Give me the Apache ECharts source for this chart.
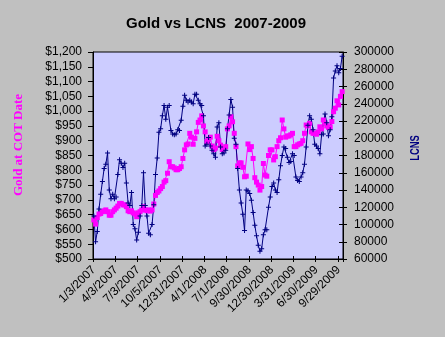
<!DOCTYPE html>
<html><head><meta charset="utf-8">
<script src="https://cdn.jsdelivr.net/npm/echarts@6/dist/echarts.min.js"></script>
<style>html,body{margin:0;padding:0;background:#C0C0C0}#c{width:445px;height:337px}</style>
</head><body><div id="c"></div>
<script>
// Tick labels shown on the category axis (every 13th weekly COT date)
const tickLabels = ['1/3/2007','4/3/2007','7/3/2007','10/5/2007','12/31/2007','4/1/2008','7/1/2008','9/30/2008','12/30/2008','3/31/2009','6/30/2009','9/29/2009'];

// Gold price at COT date (left axis, $)
const gold = [
632,618,640,652,654,660,663,666,660,648,
648,660,666,672,679,688,688,683,683,677,
663,660,663,656,652,643,656,660,666,677,
666,663,666,662,666,686,715,725,730,738,
745,760,765,790,829,812,812,808,802,802,
806,812,840,869,886,889,925,912,888,908,
930,962,970,984,950,930,897,905,912,882,
870,875,915,900,885,870,875,880,940,950,
981,964,925,880,815,825,825,810,778,780,
889,870,880,840,775,760,750,733,745,823,
784,780,850,869,869,835,846,880,900,910,
970,940,912,916,916,920,925,880,880,886,
889,891,900,925,953,950,959,930,925,925,
922,930,947,940,970,959,950,945,947,965,
998,1010,1035,1021,1050,1066];

// LCNS (right axis)
const lcns = [
110000,80000,92000,118000,135000,150000,165000,170000,183000,140000,
130000,135000,130000,132000,158000,175000,171000,166000,171000,148000,
125000,122000,137000,100000,95000,82000,91000,110000,122000,160000,
122000,110000,90000,88000,100000,123000,158000,177000,207000,211000,
226000,238000,222000,236000,238000,209000,205000,204000,205000,210000,
209000,221000,237000,250000,244000,242000,244000,242000,240000,251000,
251000,244000,240000,238000,226000,191000,193000,201000,191000,186000,
182000,178000,213000,218000,190000,182000,183000,186000,211000,227000,
245000,236000,200000,193000,165000,140000,125000,112000,93000,140000,
139000,136000,128000,114000,99000,87000,76000,69000,72000,88000,
94000,94000,120000,132000,144000,148000,140000,137000,152000,168000,
180000,190000,188000,178000,172000,173000,182000,180000,155000,151000,
150000,155000,160000,170000,190000,215000,226000,222000,210000,193000,
191000,188000,182000,204000,205000,228000,218000,203000,210000,225000,
270000,278000,284000,276000,281000,295000];

// Weekly category dates
const categories = [];
const startMs = Date.UTC(2007, 0, 3);
for (let i = 0; i < gold.length; i++) {
  if (i % 13 === 0 && tickLabels[i / 13]) { categories.push(tickLabels[i / 13]); continue; }
  const d = new Date(startMs + i * 7 * 86400000);
  categories.push((d.getUTCMonth() + 1) + '/' + d.getUTCDate() + '/' + d.getUTCFullYear());
}

const every13 = (i) => i % 13 === 0;
const chart = echarts.init(document.getElementById('c'), null, {renderer: 'canvas'});
const font = 'Liberation Sans';
chart.setOption({
  animation: false,
  backgroundColor: '#C0C0C0',
  title: {
    text: 'Gold vs LCNS  2007-2009', left: 211, top: 11, textAlign: 'center',
    textStyle: {fontSize: 15, fontWeight: 'bold', fontFamily: font, color: '#000'}
  },
  grid: {left: 93, right: 102, top: 52, bottom: 78, show: true, backgroundColor: '#CCCCFF', borderColor: '#000', borderWidth: 1, containLabel: false},
  xAxis: [
    {type: 'category', data: categories, boundaryGap: true,
     axisLine: {lineStyle: {color: '#000', width: 1}},
     axisTick: {show: true, interval: every13, length: 3, lineStyle: {color: '#000'}},
     axisLabel: {interval: every13, rotate: 45, fontSize: 12, fontFamily: font, color: '#000', margin: 9},
     splitLine: {show: false}},
    {type: 'category', data: categories, boundaryGap: true, position: 'bottom',
     axisLine: {show: false},
     axisTick: {show: true, inside: true, interval: every13, length: 3, lineStyle: {color: '#000'}},
     axisLabel: {show: false}, splitLine: {show: false}}
  ],
  yAxis: [
    {type: 'value', min: 500, max: 1200, interval: 50, position: 'left',
     axisLine: {show: true, lineStyle: {color: '#000'}},
     axisTick: {show: true, length: 5, lineStyle: {color: '#000'}},
     axisLabel: {fontSize: 12, fontFamily: font, color: '#000', margin: 11,
       formatter: v => '$' + v.toLocaleString('en-US')},
     splitLine: {show: false}},
    {type: 'value', min: 60000, max: 300000, interval: 20000, position: 'right',
     axisLine: {show: true, lineStyle: {color: '#000'}},
     axisTick: {show: true, length: 4, lineStyle: {color: '#000'}},
     axisLabel: {fontSize: 12, fontFamily: font, color: '#000', margin: 11,
       formatter: v => String(v)},
     splitLine: {show: false}},
    {type: 'value', min: 60000, max: 300000, interval: 20000, position: 'right',
     axisLine: {show: false},
     axisTick: {show: true, inside: true, length: 4, lineStyle: {color: '#000'}},
     axisLabel: {show: false}, splitLine: {show: false}}
  ],
  graphic: [
    {type: 'text', x: 19, y: 145, rotation: Math.PI / 2,
     style: {text: 'Gold at COT Date', fontSize: 13, fontWeight: 'bold', fontFamily: 'Liberation Serif', fill: '#FF00FF', align: 'center', verticalAlign: 'middle'}},
    {type: 'text', x: 415, y: 148, rotation: Math.PI / 2, scaleX: 0.72,
     style: {text: 'LCNS', fontSize: 13, fontWeight: 'bold', fontFamily: font, fill: '#000080', align: 'center', verticalAlign: 'middle'}}
  ],
  series: [
    {name: 'Gold', type: 'line', xAxisIndex: 0, yAxisIndex: 0, data: gold,
     showAllSymbol: true, symbol: 'rect', symbolSize: 5,
     lineStyle: {color: '#FF00FF', width: 1}, itemStyle: {color: '#FF00FF'}},
    {name: 'LCNS', type: 'line', xAxisIndex: 0, yAxisIndex: 1, data: lcns,
     showAllSymbol: true, symbol: 'path://M2,0H3V2H5V3H3V5H2V3H0V2H2Z', symbolSize: 5,
     lineStyle: {color: '#000080', width: 1}, itemStyle: {color: '#000080'}}
  ]
});
</script></body></html>
